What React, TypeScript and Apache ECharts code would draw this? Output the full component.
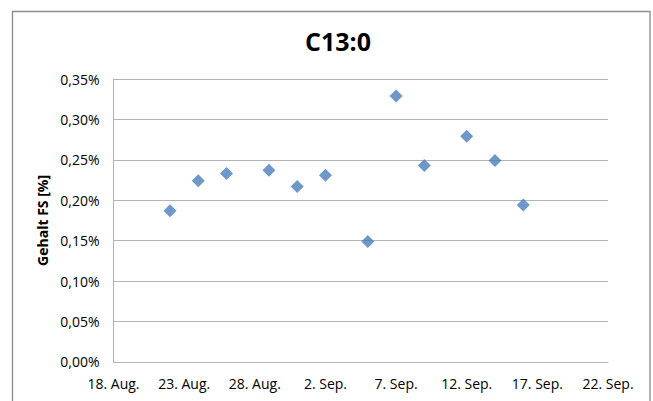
import React, { useEffect, useRef } from "react";
import * as echarts from "echarts";

const chartTitle = "C13:0";
const yAxisName = "Gehalt FS [%]";
const startDate = "2012-08-18";
const xTickLabels = ["18. Aug.", "23. Aug.", "28. Aug.", "2. Sep.", "7. Sep.", "12. Sep.", "17. Sep.", "22. Sep."];
const sampleDates = [
  "2012-08-22", "2012-08-24", "2012-08-26", "2012-08-29", "2012-08-31", "2012-09-02",
  "2012-09-05", "2012-09-07", "2012-09-09", "2012-09-12", "2012-09-14", "2012-09-16",
];
const c130Values = [0.187, 0.224, 0.233, 0.237, 0.217, 0.231, 0.149, 0.329, 0.243, 0.279, 0.249, 0.194];

const DAY = 86400000;
const dayOffset = (d: string) => Math.round((Date.parse(d) - Date.parse(startDate)) / DAY);

export default function App() {
  const ref = useRef<HTMLDivElement>(null);
  useEffect(() => {
    if (!ref.current) return;
    const chart = echarts.init(ref.current, null, { renderer: "svg" });
    const font = "'Open Sans', 'Noto Sans', sans-serif";
    chart.setOption({
      animation: false,
      backgroundColor: "#ffffff",
      graphic: [
        {
          type: "rect",
          shape: { x: 12.5, y: 11.5, width: 637.5, height: 420 },
          style: { fill: "none", stroke: "#8a8a8a", lineWidth: 1.3 },
          silent: true,
          z: -1,
        },
      ],
      title: {
        text: chartTitle,
        left: 333,
        textAlign: "center",
        top: 23,
        textStyle: { fontFamily: font, fontSize: 25, fontWeight: "bold", color: "#000" },
      },
      grid: { left: 113.5, right: 45, top: 79, bottom: 39.2 },
      xAxis: {
        type: "value",
        min: 0,
        max: 35,
        interval: 5,
        axisLine: { show: true, lineStyle: { color: "#b3b3b3", width: 1 } },
        axisTick: { show: false },
        splitLine: { show: false },
        axisLabel: {
          margin: 15,
          fontFamily: font,
          fontSize: 14,
          color: "#000",
          showMaxLabel: true,
          showMinLabel: true,
          formatter: (v: number) => xTickLabels[Math.round(v / 5)] ?? "",
        },
      },
      yAxis: {
        type: "value",
        min: 0,
        max: 0.35,
        interval: 0.05,
        name: yAxisName,
        nameLocation: "middle",
        nameGap: 60,
        nameTextStyle: { fontFamily: font, fontSize: 14, fontWeight: "bold", color: "#000" },
        axisLine: { show: true, lineStyle: { color: "#b3b3b3", width: 1 } },
        axisTick: { show: false },
        splitLine: { show: true, lineStyle: { color: "#b3b3b3", width: 1 } },
        axisLabel: {
          margin: 14,
          fontFamily: font,
          fontSize: 14,
          color: "#000",
          formatter: (v: number) => v.toFixed(2).replace(".", ",") + "%",
        },
      },
      series: [
        {
          type: "scatter",
          symbol: "diamond",
          symbolSize: 13,
          itemStyle: { color: "#4a7ebb" },
          data: sampleDates.map((d, i) => [dayOffset(d), c130Values[i]]),
        },
      ],
    });
    return () => chart.dispose();
  }, []);
  return <div ref={ref} style={{ position: "fixed", left: 0, top: 0, width: 653, height: 401 }} />;
}
